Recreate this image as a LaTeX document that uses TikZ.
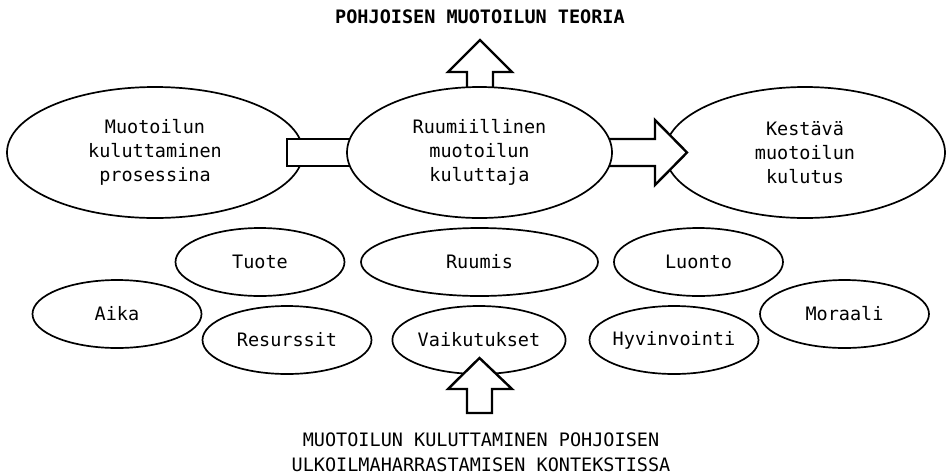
\documentclass[tikz,border=0pt]{standalone}
\usepackage{fontspec}
\setmonofont{DejaVu Sans Mono}
\usetikzlibrary{shapes.geometric}
\tikzset{
  ell/.style={draw=black, line width=1.7pt, fill=white, ellipse, inner sep=0pt,
    font=\ttfamily\fontsize{18.5}{24}\selectfont, align=center},
  bigell/.style={ell, minimum width=296pt, minimum height=131pt},
  midell/.style={ell, minimum width=265pt, minimum height=131pt},
  smallell/.style={ell, minimum width=169pt, minimum height=68pt},
  wideell/.style={ell, minimum width=237pt, minimum height=68pt},
  blockarrow/.style={draw=black, line width=2.4pt, fill=white, line join=miter},
  caption/.style={font=\ttfamily\fontsize{18.5}{25}\selectfont, align=center, inner sep=0pt},
}
\begin{document}
\begin{tikzpicture}[x=1pt,y=-1pt]
\useasboundingbox (0,0) rectangle (946,475);
% outer big ellipses
\node[bigell] (proc) at (155,152.5) {Muotoilun\\kuluttaminen\\prosessina};
\node[bigell, minimum width=280pt] (kest) at (805,152.5) {Kestävä\\muotoilun\\kulutus};
% block arrows
\draw[blockarrow] (287,139) -- (365,139) -- (365,166) -- (287,166) -- cycle;
\draw[blockarrow] (595,139) -- (655,139) -- (655,120) -- (687,152.5) -- (655,185) -- (655,166) -- (595,166) -- cycle;
\draw[blockarrow] (467,110) -- (467,72) -- (448,72) -- (480,40) -- (512,72) -- (493,72) -- (493,110) -- cycle;
% middle ellipse
\node[midell] (ruum) at (479.5,152.5) {Ruumiillinen\\muotoilun\\kuluttaja};
% title
\node[caption, font=\ttfamily\bfseries\fontsize{18.5}{25}\selectfont] (teoria) at (480,17) {POHJOISEN MUOTOILUN TEORIA};
% small ellipses
\node[smallell] (tuote) at (260,262) {Tuote};
\node[wideell] (ruumis) at (479.5,262) {Ruumis};
\node[smallell] (luonto) at (698.5,262) {Luonto};
\node[smallell] (aika) at (117,314) {Aika};
\node[smallell] (res) at (287,340) {Resurssit};
\node[smallell] (vaik) at (479,340) {Vaikutukset};
\node[smallell] (hyv) at (674,340) {\makebox[0pt]{Hyvinvointi}};
\node[smallell] (mor) at (844.5,314) {Moraali};
% bottom arrow
\draw[blockarrow] (467,413) -- (467,389) -- (448,389) -- (479.5,358) -- (512,389) -- (492,389) -- (492,413) -- cycle;
% bottom caption
\node[caption] (konteksti) at (481,452) {MUOTOILUN KULUTTAMINEN POHJOISEN\\ULKOILMAHARRASTAMISEN KONTEKSTISSA};
\end{tikzpicture}
\end{document}
